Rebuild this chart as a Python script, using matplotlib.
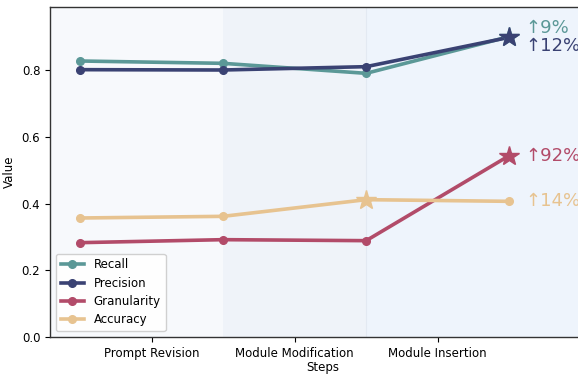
import matplotlib
matplotlib.use("Agg")
import matplotlib.pyplot as plt
import numpy as np

steps = ["Prompt Revision", "Module Modification", "Module Insertion"]
series_names = ["Recall", "Precision", "Granularity", "Accuracy"]
recall = [0.828, 0.821, 0.791, 0.901]
precision = [0.802, 0.801, 0.811, 0.899]
granularity = [0.283, 0.292, 0.289, 0.544]
accuracy = [0.357, 0.362, 0.412, 0.407]
gains = ["↑9%", "↑12%", "↑92%", "↑14%"]
colors = ["#5b9897", "#3a4273", "#b24b69", "#e7c390"]

data = [recall, precision, granularity, accuracy]
text_offsets = [9, -9, 0, 0]

fig = plt.figure(figsize=(5.78, 3.74), dpi=100)
ax = fig.add_axes([50/578, 37/374, 545/578, 330/374])

x = np.arange(len(recall))
ax.set_xlim(-0.21, 3.6)
ax.set_ylim(0, 0.99)

ax.axvspan(-0.5, 1, color="#f7f9fc", zorder=0, lw=0)
ax.axvspan(1, 2, color="#eff3f9", zorder=0, lw=0)
ax.axvspan(2, 4, color="#eef4fc", zorder=0, lw=0)
ax.axvline(2, color="#e3e9f2", lw=0.8, zorder=0.5)

for name, vals, c, g, off in zip(series_names, data, colors, gains, text_offsets):
    ax.plot(x, vals, color=c, lw=2.6, marker="o", ms=5.5, label=name, zorder=3)
    imax = int(np.argmax(vals))
    ax.plot(x[imax], vals[imax], marker="*", ms=15, color=c, zorder=4, lw=0)
    ax.annotate(g, xy=(x[-1], vals[-1]), xytext=(16, off), textcoords="offset pixels",
                ha="left", va="center", fontsize=13, color=c)

ax.set_xticks([0.5, 1.5, 2.5])
ax.set_xticklabels(steps, fontsize=8.5)
ax.set_yticks([0, 0.2, 0.4, 0.6, 0.8])
ax.set_yticklabels(["0.0", "0.2", "0.4", "0.6", "0.8"], fontsize=8.5)
ax.set_xlabel("Steps", fontsize=8.5, labelpad=1)
ax.set_ylabel("Value", fontsize=8.5)
for s in ax.spines.values():
    s.set_color("#333333")
    s.set_linewidth(1)

ax.legend(loc="lower left", fontsize=8.5, framealpha=0.9, labelspacing=0.45)

fig.savefig("out.png", dpi=100)
